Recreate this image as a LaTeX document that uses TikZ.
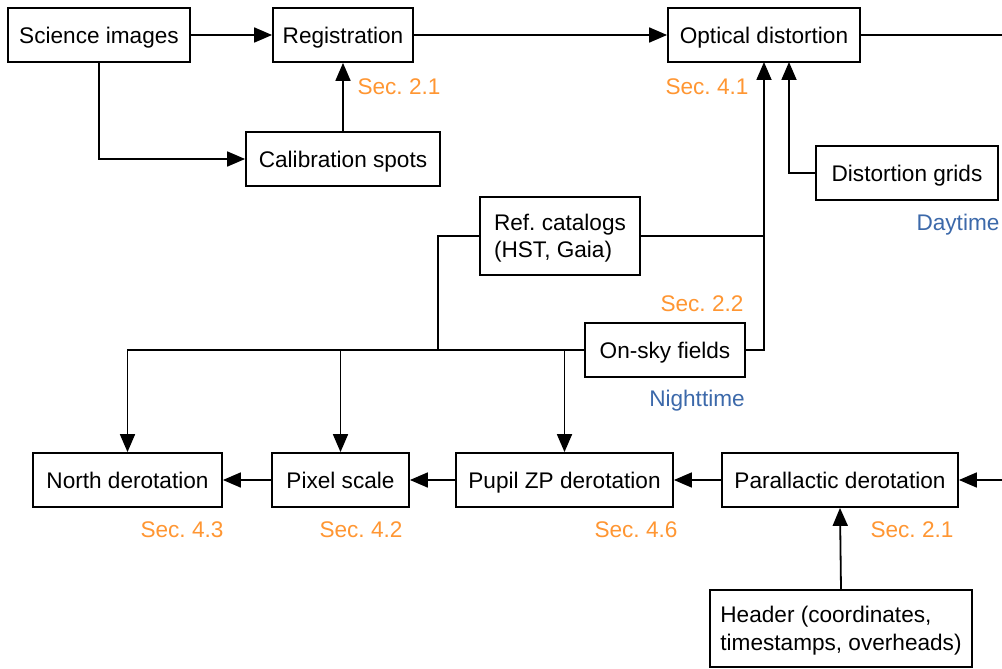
\documentclass[tikz,border=0pt]{standalone}
\usepackage{fontspec}
\setmainfont{Liberation Sans}
\frenchspacing
\usetikzlibrary{arrows.meta}
\definecolor{secorange}{RGB}{255,150,50}
\definecolor{timeblue}{RGB}{60,105,170}
\begin{document}
\begin{tikzpicture}[x=1pt,y=-1pt,
  fnt/.style={font=\fontsize{22.6}{27.5}\selectfont,text height=16.2pt,text depth=0pt},
  box/.style={draw=black,line width=1.8pt,inner sep=0pt,fnt},
  twoline/.style={align=left,text height=43.7pt},
  line/.style={draw=black,line width=1.8pt},
  arr/.style={line,-{Triangle[length=18pt,width=15pt]}},
  sec/.style={text=secorange,fnt,inner sep=0pt},
  tim/.style={text=timeblue,fnt,inner sep=0pt}]
\useasboundingbox (0,0) rectangle (1002,669);
\fill[white] (0,0) rectangle (1002,669);
% boxes
\node[box,minimum width=182pt,minimum height=54pt] (sci) at (99,35) {Science images};
\node[box,minimum width=140pt,minimum height=54pt] (reg) at (343,35) {Registration};
\node[box,minimum width=194pt,minimum height=54pt] (cal) at (343,159) {Calibration spots};
\node[box,minimum width=192pt,minimum height=54pt] (opt) at (764,35) {Optical distortion};
\node[box,minimum width=182pt,minimum height=54pt] (grid) at (907,173) {Distortion grids};
\node[box,twoline,minimum width=160pt,minimum height=78pt] (ref) at (560,236) {Ref. catalogs\\(HST, Gaia)};
\node[box,minimum width=160pt,minimum height=54pt] (sky) at (665,350) {On-sky fields};
\node[box,minimum width=189pt,minimum height=54pt] (north) at (127.5,480) {North derotation};
\node[box,minimum width=137pt,minimum height=54pt] (pix) at (340.5,480) {Pixel scale};
\node[box,minimum width=217pt,minimum height=54pt] (pupil) at (564.5,480) {Pupil ZP derotation};
\node[box,minimum width=236pt,minimum height=54pt] (par) at (840,480) {Parallactic derotation};
\node[box,twoline,minimum width=262pt,minimum height=77pt] (head) at (841,628.5) {Header (coordinates,\\timestamps, overheads)};
% labels
\node[sec] (s1) at (399,86) {Sec. 2.1};
\node[sec] (s2) at (707,86) {Sec. 4.1};
\node[tim] (t1) at (958,222) {Daytime};
\node[sec] (s3) at (702,303) {Sec. 2.2};
\node[tim] (t2) at (697,398) {Nighttime};
\node[sec] (s4) at (182,529) {Sec. 4.3};
\node[sec] (s5) at (361,529) {Sec. 4.2};
\node[sec] (s6) at (636,529) {Sec. 4.6};
\node[sec] (s7) at (912,529) {Sec. 2.1};
% coordinates
\coordinate (edgeA) at (1002,35);
\coordinate (edgeB) at (1002,480);
\coordinate (sciD) at (99,62);
\coordinate (optA) at (764,62);
\coordinate (optB) at (789,62);
\coordinate (rj) at (438,350);
\coordinate (xj) at (764,236);
% connectors
\draw[arr] (sci.east) -- (reg.west);
\draw[arr] (sciD) |- (cal.west);
\draw[arr] (cal.north) -- (reg.south);
\draw[arr] (reg.east) -- (opt.west);
\draw[line] (opt.east) -- (edgeA);
\draw[arr] (grid.west) -| (optB);
\draw[line] (ref.east) -- (xj);
\draw[arr] (sky.east) -| (optA);
\draw[line] (ref.west) -| (rj);
\draw[arr] (sky.west) -| (north.north);
\draw[arr] (pix.north |- sky.west) -- (pix.north);
\draw[arr] (pupil.north |- sky.west) -- (pupil.north);
\draw[arr] (edgeB) -- (par.east);
\draw[arr] (par.west) -- (pupil.east);
\draw[arr] (pupil.west) -- (pix.east);
\draw[arr] (pix.west) -- (north.east);
\draw[arr] (head.north) -- (par.south);
\end{tikzpicture}
\end{document}
